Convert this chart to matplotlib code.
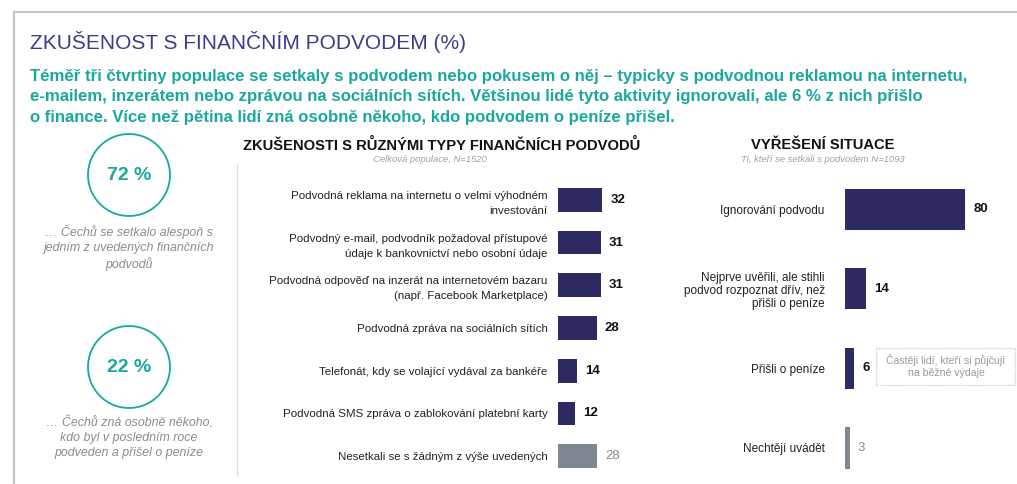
#!/usr/bin/env python3
"""Recreate the 'Zkušenost s finančním podvodem' infographic."""

import matplotlib

matplotlib.use("Agg")
import matplotlib.pyplot as plt  # noqa: I001
from matplotlib.patches import Circle, Rectangle

plt.rcParams["font.family"] = ["Liberation Sans", "DejaVu Sans"]

W, H = 1017, 484

NAVY = "#2d2b62"
GREY_BAR = "#7f8791"
TEAL = "#1ba89c"
TITLE_BLUE = "#3c3b8c"
GREY_TEXT = "#8c8c8c"

TITLE = "ZKUŠENOST S FINANČNÍM PODVODEM (%)"
LEAD = (
    "Téměř tři čtvrtiny populace se setkaly s podvodem nebo pokusem o něj – typicky s podvodnou reklamou na internetu,\n"
    "e-mailem, inzerátem nebo zprávou na sociálních sítích. Většinou lidé tyto aktivity ignorovali, ale 6 % z nich přišlo\n"
    "o finance. Více než pětina lidí zná osobně někoho, kdo podvodem o peníze přišel."
)

kpi_values = ["72 %", "22 %"]
kpi_captions = [
    "… Čechů se setkalo alespoň s\njedním z uvedených finančních\npodvodů",
    "… Čechů zná osobně někoho,\nkdo byl v posledním roce\npodveden a přišel o peníze",
]

fraud_labels = [
    "Podvodná reklama na internetu o velmi výhodném\ninvestování",
    "Podvodný e-mail, podvodník požadoval přístupové\núdaje k bankovnictví nebo osobní údaje",
    "Podvodná odpověď na inzerát na internetovém bazaru\n(např. Facebook Marketplace)",
    "Podvodná zpráva na sociálních sítích",
    "Telefonát, kdy se volající vydával za bankéře",
    "Podvodná SMS zpráva o zablokování platební karty",
    "Nesetkali se s žádným z výše uvedených",
]
fraud_values = [32, 31, 31, 28, 14, 12, 28]

outcome_labels = [
    "Ignorování podvodu",
    "Nejprve uvěřili, ale stihli\npodvod rozpoznat dřív, než\npřišli o peníze",
    "Přišli o peníze",
    "Nechtějí uvádět",
]
outcome_values = [80, 14, 6, 3]


def px_axes(fig, left, top, right, bottom):
    return fig.add_axes([left / W, 1 - bottom / H, (right - left) / W, (bottom - top) / H])


def bar_panel(ax, labels, values, grey_last, bar_h, pad, fs, lsp):
    colors = [NAVY] * len(values)
    if grey_last:
        colors[-1] = GREY_BAR
    y = range(len(values))
    ax.barh(y, values, height=bar_h, color=colors, edgecolor="none")
    ax.set_yticks(list(y))
    ax.set_yticklabels(labels, fontsize=fs, color="#222222", linespacing=lsp)
    ax.tick_params(axis="y", length=0, pad=pad)
    ax.set_xticks([])
    ax.invert_yaxis()
    for s in ax.spines.values():
        s.set_visible(False)
    ax.patch.set_alpha(0)
    for i, v in enumerate(values):
        last = grey_last and i == len(values) - 1
        ax.annotate(
            str(v),
            (v, i),
            xytext=(6, 0),
            textcoords="offset points",
            va="center",
            ha="left",
            fontsize=9.5,
            fontweight="normal" if last else "bold",
            color=GREY_TEXT if last else "#111111",
        )


fig = plt.figure(figsize=(W / 100, H / 100), dpi=100)
base = fig.add_axes([0, 0, 1, 1])
base.set_xlim(0, W)
base.set_ylim(H, 0)
base.axis("off")

# frame and separator
base.plot([14, W], [12, 12], color="#c4c4c4", lw=1.5)
base.plot([14, 14], [12, H], color="#c4c4c4", lw=1.5)
base.plot([237, 237], [165, 475], color="#dcdde8", lw=1)

base.text(30, 42, TITLE, fontsize=15, color=TITLE_BLUE, va="center", ha="left")
base.text(30, 97, LEAD, fontsize=12.1, color=TEAL, fontweight="bold",
          va="center", ha="left", linespacing=1.45)

# KPI circles
for cy, val, cap, capy in zip([175, 367], kpi_values, kpi_captions, [248, 438]):
    base.add_patch(Circle((129, cy), 41, fill=False, ec=TEAL, lw=1.3))
    base.text(129, cy, val, fontsize=14, fontweight="bold", color=TEAL, ha="center", va="center")
    base.text(129, capy, cap, fontsize=8.9, style="italic", color=GREY_TEXT,
              ha="center", va="center", linespacing=1.3)

# middle panel headings
base.text(442, 145, "ZKUŠENOSTI S RŮZNÝMI TYPY FINANČNÍCH PODVODŮ", fontsize=10.6,
          fontweight="bold", color="#111111", ha="center", va="center")
base.text(430, 160, "Celková populace, N=1520", fontsize=6.8, style="italic",
          color="#a0a0a0", ha="center", va="center")

# right panel headings
base.text(823, 145, "VYŘEŠENÍ SITUACE", fontsize=10.6, fontweight="bold",
          color="#111111", ha="center", va="center")
base.text(823, 160, "Ti, kteří se setkali s podvodem N=1093", fontsize=6.8, style="italic",
          color="#a0a0a0", ha="center", va="center")

# note box
base.add_patch(Rectangle((876, 348), 139, 37, fill=False, ec="#c8c8c8", lw=0.9, ls=(0, (1, 1))))
base.text(946, 366, "Častěji lidí, kteří si půjčují\nna běžné výdaje", fontsize=7.6,
          color="#9a9a9a", ha="center", va="center", linespacing=1.35)

ax_mid = px_axes(fig, 558, 174, 558 + 60 * 1.375, 482)
ax_mid.set_xlim(0, 60)
bar_panel(ax_mid, fraud_labels, fraud_values, True, 0.55, 7.5, 8.25, 1.65)

ax_right = px_axes(fig, 845, 174.5, 845 + 100 * 1.5, 482.5)
ax_right.set_xlim(0, 100)
bar_panel(ax_right, outcome_labels, outcome_values, True, 0.52, 14.5, 8.5, 1.12)

fig.savefig("out.png", dpi=100)
